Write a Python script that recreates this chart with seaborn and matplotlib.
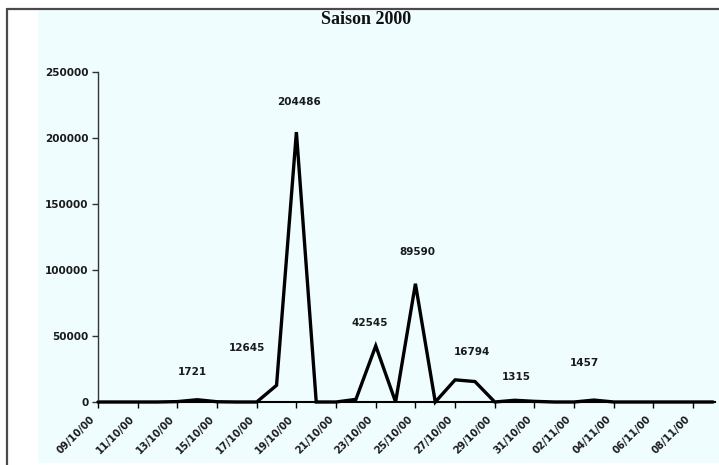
import numpy as np
import pandas as pd
import matplotlib
matplotlib.use("Agg")
import matplotlib.pyplot as plt
import matplotlib.transforms as mtransforms
from matplotlib.patches import Rectangle
from matplotlib.lines import Line2D
import seaborn as sns

# Daily counts for the 2000 season (09/10/2000 -> 09/11/2000)
dates = pd.date_range("2000-10-09", "2000-11-09", freq="D")
counts = [0, 0, 0, 0, 300, 1721, 200, 0, 0, 12645,
          204486, 0, 0, 2000, 42545, 0, 89590, 0, 16794, 15500,
          0, 1315, 500, 0, 0, 1457, 0, 0, 0, 0,
          0, 0]

# Peak labels: date, value, label offset (pixels)
label_dates = ["2000-10-14", "2000-10-18", "2000-10-19", "2000-10-23",
               "2000-10-25", "2000-10-27", "2000-10-30", "2000-11-03"]
label_values = [1721, 12645, 204486, 42545, 89590, 16794, 1315, 1457]
label_offsets = [(-5, 28), (-30, 37), (3, 30), (-6, 23),
                 (2, 32), (17, 28), (2, 23), (-10, 37)]

title = "Saison 2000"
y_ticks = [0, 50000, 100000, 150000, 200000, 250000]

df = pd.DataFrame({"date": dates, "count": counts})

sns.set_theme(style="white")
plt.rcParams["font.family"] = ["DejaVu Sans"]

W, H = 719, 465
fig = plt.figure(figsize=(W / 100, H / 100), dpi=100, facecolor="white")

bg = "#EFFDFF"
# panel background and frame
fig.patches.append(Rectangle((38 / W, 1 - 463 / H), (W - 38) / W, (463 - 11) / H,
                             transform=fig.transFigure, facecolor=bg,
                             edgecolor="none", zorder=-5))
fig.lines.append(Line2D([7 / W, 7 / W], [0, 1 - 9 / H], transform=fig.transFigure,
                        color="#4a4a4a", lw=1.6, zorder=-4))
fig.lines.append(Line2D([7 / W, 1], [1 - 9 / H, 1 - 9 / H], transform=fig.transFigure,
                        color="#4a4a4a", lw=1.6, zorder=-4))

ax = fig.add_axes([98 / W, 1 - 402 / H, (715 - 98) / W, (402 - 72) / H])
ax.set_facecolor("none")
ax.set_zorder(2)

sns.lineplot(data=df, x="date", y="count", ax=ax, color="black", linewidth=2.4,
             solid_joinstyle="miter", clip_on=False)

ax.set_ylim(0, 250000)
ax.set_xlim(dates[0], dates[0] + pd.Timedelta(days=31.1))
ax.set_yticks(y_ticks)
ax.set_yticklabels([str(v) for v in y_ticks])

xt = pd.date_range("2000-10-09", "2000-11-08", freq="2D")
ax.set_xticks(xt)
ax.set_xticklabels([d.strftime("%d/%m/%y") for d in xt], rotation=45,
                   ha="right", rotation_mode="anchor")

ax.set_xlabel("")
ax.set_ylabel("")
for s in ["top", "right"]:
    ax.spines[s].set_visible(False)
ax.spines["left"].set_color("#333333")
ax.spines["left"].set_linewidth(1.0)
ax.spines["bottom"].set_color("black")
ax.spines["bottom"].set_linewidth(1.5)

ax.tick_params(axis="y", which="major", direction="out", length=4, width=1,
               color="#333333", labelsize=7.5, labelcolor="#1a1a1a", pad=3, left=True)
ax.tick_params(axis="x", which="major", direction="out", length=4, width=1,
               color="black", labelsize=7.2, labelcolor="#1a1a1a", pad=3, bottom=True)
shift = mtransforms.ScaledTranslation(-8 / 100, -2 / 100, fig.dpi_scale_trans)
for lab in ax.get_xticklabels():
    lab.set_transform(lab.get_transform() + shift)
for lab in ax.get_yticklabels() + ax.get_xticklabels():
    lab.set_fontweight("bold")

for d, v, off in zip(label_dates, label_values, label_offsets):
    ax.annotate(str(v), xy=(pd.Timestamp(d), v), xytext=off,
                textcoords="offset pixels", ha="center", va="center",
                fontsize=7.5, fontweight="bold", color="#1a1a1a")

fig.text(366 / W, 1 - 19 / H, title, ha="center", va="center",
         fontsize=13, fontweight="bold", family="Liberation Serif", color="#111111")

fig.savefig("out.png", dpi=100, facecolor="white")
